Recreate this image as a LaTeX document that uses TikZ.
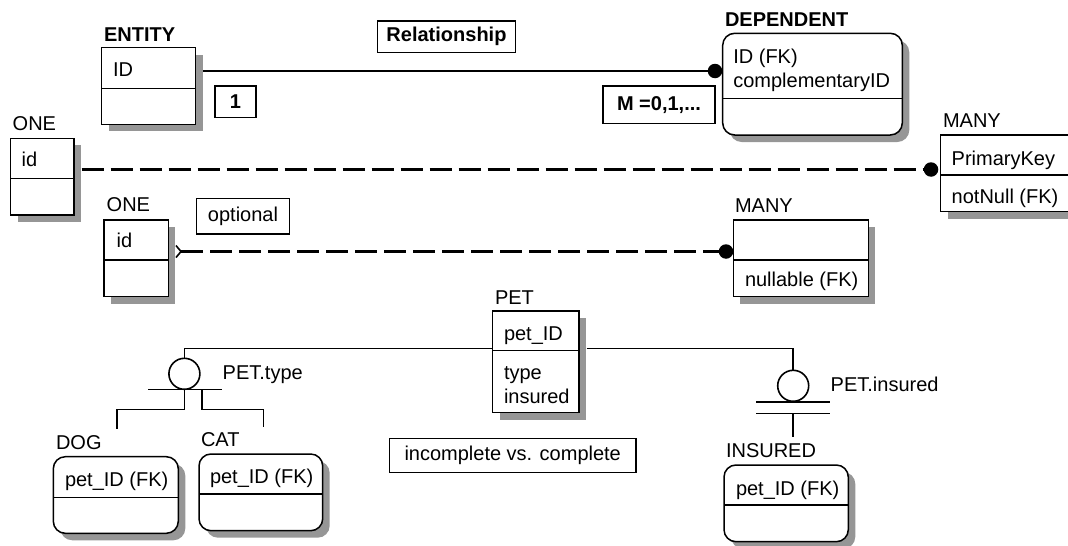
\documentclass[tikz,border=0pt]{standalone}
\usepackage{fontspec}
\setmainfont{Liberation Sans}
\definecolor{shadowgray}{RGB}{150,150,150}

\begin{document}
\begin{tikzpicture}[x=1pt,y=-1pt,
  every node/.style={inner sep=0pt,outer sep=0pt},
  txt/.style={anchor=base west,font=\fontsize{20}{24}\selectfont},
  btxt/.style={anchor=base west,font=\fontsize{20}{24}\selectfont\bfseries},
  ent/.style={draw,line width=1.5pt,fill=white,anchor=north west},
  rent/.style={ent,rounded corners=12pt},
  shadowbox/.style={fill=shadowgray,anchor=north west},
  rshadowbox/.style={shadowbox,rounded corners=12pt},
  divider/.style={line width=1.5pt},
  tag/.style={draw,line width=1.5pt,fill=white,font=\fontsize{20}{24}\selectfont},
  btag/.style={tag,font=\fontsize{20}{24}\selectfont\bfseries},
  dot/.style={circle,fill=black,minimum size=14.5pt},
  rel/.style={line width=2pt},
  drel/.style={line width=3.6pt,dash pattern=on 22pt off 7pt},
  catsym/.style={circle,draw,line width=1.6pt,minimum size=31pt},
  catline/.style={line width=1.6pt},
]
\useasboundingbox (0,0) rectangle (1068,546);

% ---------- drop shadows (7 right, 7 down), under the boxes ----------
\node[shadowbox,minimum width=94pt,minimum height=76.6pt] (entity-sh) at (108.7,54.7) {};
\node[rshadowbox,minimum width=179.6pt,minimum height=101.7pt] (dep-sh) at (729.7,40.3) {};
\node[shadowbox,minimum width=63.3pt,minimum height=76.7pt] (one-sh) at (17.7,145.3) {};
\node[shadowbox,minimum width=131pt,minimum height=76.7pt] (many-sh) at (947.7,142) {};
\node[shadowbox,minimum width=64.3pt,minimum height=76.7pt] (oneb-sh) at (111,227) {};
\node[shadowbox,minimum width=135pt,minimum height=76.7pt] (manyb-sh) at (740.3,227) {};
\node[shadowbox,minimum width=86.3pt,minimum height=101.7pt] (pet-sh) at (499.7,318) {};
\node[rshadowbox,minimum width=125pt,minimum height=76.6pt] (dog-sh) at (60.3,463.7) {};
\node[rshadowbox,minimum width=123.7pt,minimum height=76.7pt] (cat-sh) at (206,461) {};
\node[rshadowbox,minimum width=124.3pt,minimum height=76.7pt] (ins-sh) at (731,472) {};

% ---------- identifying relationship ----------
\node[btxt] (entlbl) at (104,41.7) {ENTITY};
\node[ent,minimum width=94pt,minimum height=76.6pt] (entity) at (101.7,47.7) {};
\draw[divider] (101.7,88.3) -- (195.7,88.3);
\node[txt] (entid) at (113,76) {ID};

\node[btxt] (deplbl) at (725,26.7) {DEPENDENT};
\node[rent,minimum width=179.6pt,minimum height=101.7pt] (dep) at (722.7,33.3) {};
\draw[divider] (722.7,98.7) -- (902.3,98.7);
\node[txt] (depid) at (733.3,63.5) {ID (FK)};
\node[txt] (depcomp) at (733.3,87) {complementaryID};

\node[btag,minimum width=138.4pt,minimum height=31.3pt] (relname) at (446.5,36.7) {Relationship};
\node[btag,minimum width=41pt,minimum height=31.3pt] (card1) at (235.5,101.7) {1};
\node[btag,minimum width=112pt,minimum height=37.3pt] (cardm) at (659,104.7) {M =0,1,...};

\coordinate (entout) at (203.3,71);
\node[dot] (d1) at (715,71) {};
\draw[rel] (entout) -- (d1);

% ---------- mandatory non-identifying relationship ----------
\node[txt] (onelbl) at (12.7,130.7) {ONE};
\node[ent,minimum width=63.3pt,minimum height=76.7pt] (one) at (10.7,138.3) {};
\draw[divider] (10.7,178.3) -- (74,178.3);
\node[txt] (oneid) at (21.7,166.7) {id};

\node[txt] (manylbl) at (943,127.5) {MANY};
\node[ent,minimum width=131pt,minimum height=76.7pt] (many) at (940.7,135) {};
\draw[divider] (940.7,175) -- (1071.7,175);
\node[txt] (manypk) at (951.7,165) {PrimaryKey};
\node[txt] (manyfk) at (951.7,203.3) {notNull (FK)};

\coordinate (oneout) at (81.7,169.5);
\node[dot] (d2) at (931,169.5) {};
\draw[drel] (oneout) -- (d2);

% ---------- optional non-identifying relationship ----------
\node[txt] (onelblb) at (106.7,211.7) {ONE};
\node[ent,minimum width=64.3pt,minimum height=76.7pt] (oneb) at (104,220) {};
\draw[divider] (104,260) -- (168.3,260);
\node[txt] (oneidb) at (116.7,247) {id};

\node[tag,minimum width=92.6pt,minimum height=35.7pt] (opt) at (243,216.2) {optional};

\node[txt] (manylblb) at (735,212.7) {MANY};
\node[ent,minimum width=135pt,minimum height=76.7pt] (manyb) at (733.3,220) {};
\draw[divider] (733.3,260) -- (868.3,260);
\node[txt] (manyfkb) at (745,286.7) {nullable (FK)};

\coordinate (chev) at (181,251.5);
\draw[catline] (176,245.5) -- (chev) -- (176,257.5);
\node[dot] (d3) at (726,251.5) {};
\draw[drel] (chev) -- (d3);

% ---------- subtype hierarchy ----------
\node[txt] (petlbl) at (495,304) {PET};
\node[ent,minimum width=86.3pt,minimum height=101.7pt] (pet) at (492.7,311) {};
\draw[divider] (492.7,350.7) -- (579,350.7);
\node[txt] (petid) at (504,340) {pet\_ID};
\node[txt] (pettype) at (504,379.3) {type};
\node[txt] (petins) at (504,403.3) {insured};

\node[tag,minimum width=246.7pt,minimum height=34.4pt] (note) at (512.7,455.5) {incomplete vs. complete};

% incomplete category: PET.type
\node[catsym] (ctype) at (184.4,373.8) {};
\node[txt] (ctypelbl) at (222.7,379.3) {PET.type};
\coordinate (petl) at (492.7,348.3);
\draw[catline] (petl) -| (ctype.north);
\draw[catline] (148.3,389.3) -- (221.7,389.3);
\coordinate (dogend) at (116.7,429.3);
\coordinate (catstart) at (201.7,389.3);
\coordinate (catend) at (263.3,426.7);
\draw[catline] (ctype.south) -- ++(0,20) -| (dogend);
\draw[catline] (catstart) -- ++(0,20) -| (catend);

\node[txt] (doglbl) at (56,449.3) {DOG};
\node[rent,minimum width=125pt,minimum height=76.6pt] (dog) at (53.3,456.7) {};
\draw[divider] (53.3,497.7) -- (178.3,497.7);
\node[txt] (dogid) at (65,486.7) {pet\_ID (FK)};

\node[txt] (catlbl) at (201,446.7) {CAT};
\node[rent,minimum width=123.7pt,minimum height=76.7pt] (cat) at (199,454) {};
\draw[divider] (199,494) -- (322.7,494);
\node[txt] (catid) at (210,483.3) {pet\_ID (FK)};

% complete category: PET.insured
\node[catsym] (cins) at (793.2,385.8) {};
\node[txt] (cinslbl) at (830.7,391.7) {PET.insured};
\coordinate (petr) at (586.7,348.3);
\draw[catline] (petr) -| (cins.north);
\draw[catline] (756,401.7) -- (830,401.7);
\draw[catline] (756,413.3) -- (830,413.3);
\coordinate (insend) at (793.2,437.3);
\draw[catline] (793.2,413.3) -- (insend);

\node[txt] (inslbl) at (726,457.7) {INSURED};
\node[rent,minimum width=124.3pt,minimum height=76.7pt] (ins) at (724,465) {};
\draw[divider] (724,505) -- (848.3,505);
\node[txt] (insid) at (736,495) {pet\_ID (FK)};
\end{tikzpicture}
\end{document}
